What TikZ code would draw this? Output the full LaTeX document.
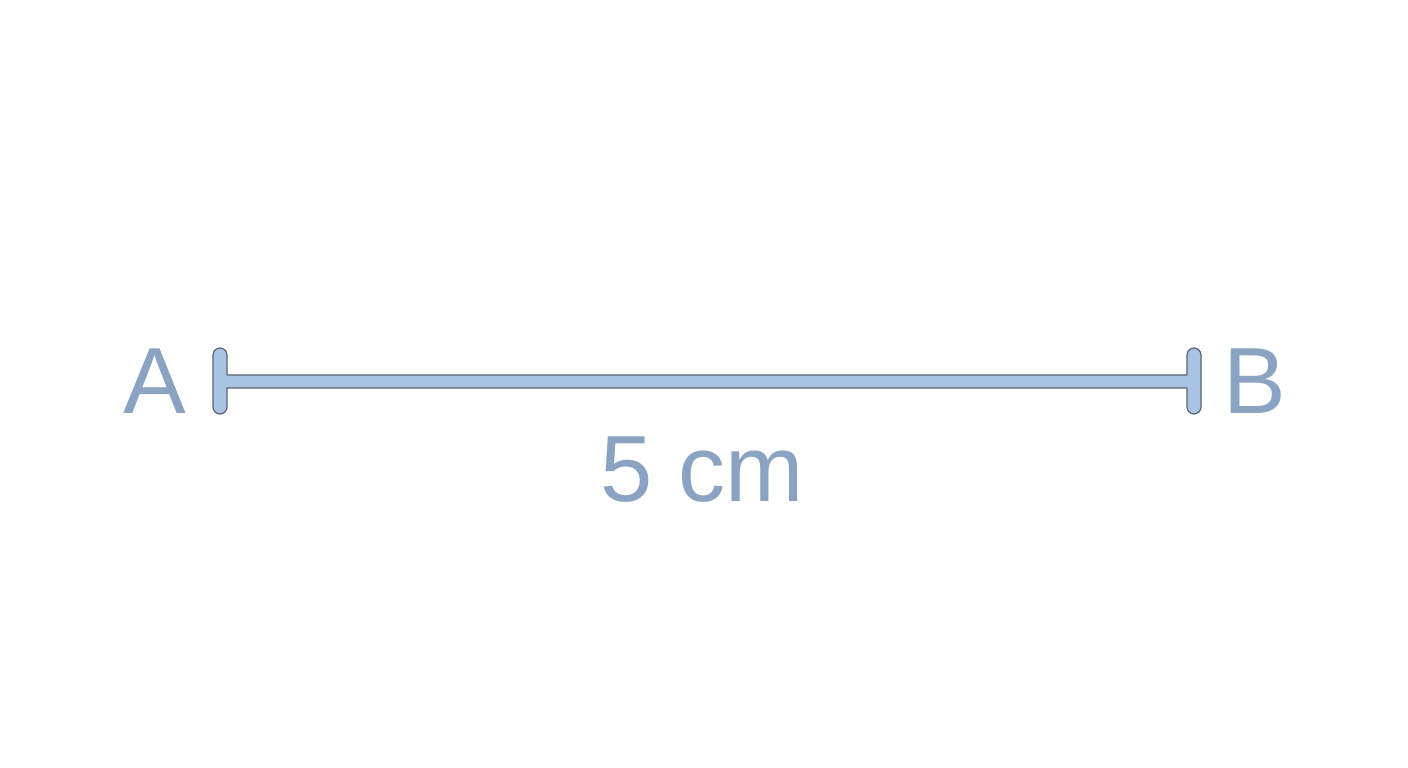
\documentclass[tikz,border=0pt]{standalone}
\usepackage{fontspec}
\setmainfont{Liberation Sans}
\definecolor{labelblue}{HTML}{8AA3C2}
\definecolor{barfill}{HTML}{A9C4E2}
\definecolor{baredge}{HTML}{5A6472}
\tikzset{
  ptlabel/.style={text=labelblue, inner sep=0pt, anchor=base, font=\fontsize{94}{110}\selectfont},
  segbar/.style={fill=barfill, draw=baredge, line width=1.2pt, line join=round}
}
\begin{document}
\begin{tikzpicture}[x=1pt,y=1pt]
\useasboundingbox (0,0) rectangle (1408,768);
% segment AB with end bars
\draw[segbar] (213,361) -- (213,413) arc (180:0:7) -- (227,393) -- (1187,393)
  -- (1187,413) arc (180:0:7) -- (1201,361) arc (0:-180:7) -- (1187,380)
  -- (227,380) -- (227,361) arc (0:-180:7) -- cycle;
% labels
\node[ptlabel] (ptA) at (155,354) {A};
\node[ptlabel] (ptB) at (1255,354) {B};
\node[ptlabel] (len) at (702,266) {5 cm};
\end{tikzpicture}
\end{document}
